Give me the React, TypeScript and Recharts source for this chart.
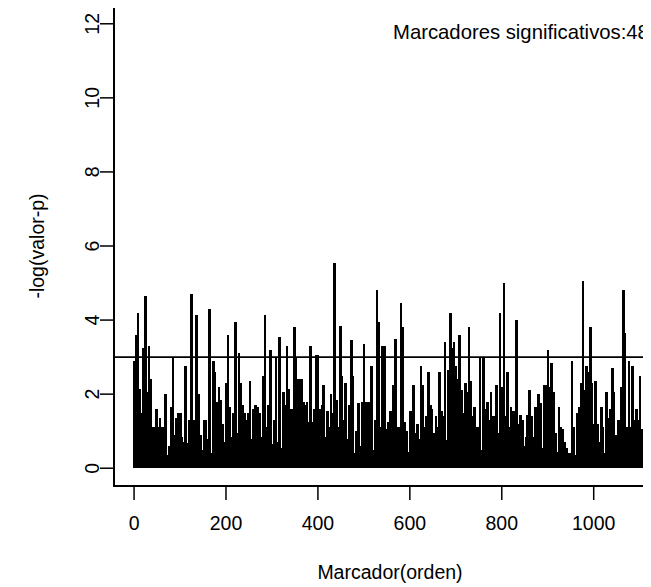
import { Bar, BarChart, ReferenceLine, XAxis, YAxis } from "recharts";

// -log(valor-p), un valor cada PASO marcadores (de izquierda a derecha)
const PASO = 4;
const tramo1 = [2.9, 3.6, 4.2, 2.15, 1.5, 3.25, 4.65, 2.05, 3.3, 2.4, 1.1, 1.1, 1.6, 1.1, 1.35, 1.1, 1.1, 2.0, 0.36, 0.6, 1.65, 3.0, 0.9, 1.35, 1.5, 1.5, 0.85, 0.7, 2.75, 0.68, 1.3, 4.7, 1.3, 1.3, 4.15, 2.0, 0.9, 0.5, 1.3, 1.3, 0.8, 4.3, 0.4, 2.9, 2.6];
const tramo2 = [1.8, 2.2, 1.85, 1.2, 0.7, 2.3, 3.6, 1.65, 0.85, 1.5, 3.95, 0.95, 3.1, 2.3, 1.7, 1.5, 1.3, 1.5, 2.35, 0.8, 1.6, 1.7, 1.65, 1.5, 0.85, 2.5, 4.15, 1.1, 1.7, 3.2, 0.65, 1.3, 3.0, 0.7, 3.55, 0.55, 2.05, 1.7, 3.3, 2.15, 1.6, 1.6, 3.8, 3.0, 2.4, 2.4];
const tramo3 = [2.4, 1.8, 1.7, 1.8, 1.25, 3.3, 1.25, 1.6, 3.05, 3.05, 1.6, 1.7, 2.25, 0.85, 1.55, 1.1, 2.0, 1.5, 5.55, 1.85, 1.1, 3.85, 2.5, 1.3, 2.3, 0.8, 1.7, 3.45, 2.5, 0.4, 1.0, 1.75, 0.6, 1.8, 3.35, 1.8, 1.8, 1.8, 2.75, 0.5, 1.3, 4.8, 3.95, 1.1, 3.3, 3.3];
const tramo4 = [1.05, 1.25, 1.55, 1.55, 2.25, 3.5, 1.1, 1.1, 4.45, 3.8, 1.25, 1.0, 0.45, 1.55, 1.55, 2.25, 0.95, 1.2, 0.8, 2.75, 2.25, 1.1, 1.4, 2.6, 1.7, 1.6, 0.95, 1.4, 1.1, 2.6, 1.55, 1.4, 3.4, 0.75, 2.65, 4.2, 3.25, 3.4, 2.75, 2.4, 3.6, 2.1, 1.5, 2.3, 2.05, 3.8];
const tramo5 = [2.35, 1.4, 1.65, 1.1, 1.1, 3.0, 0.5, 3.0, 1.6, 1.8, 1.3, 2.05, 1.4, 1.4, 2.25, 0.95, 4.2, 2.2, 5.0, 1.4, 2.6, 1.1, 1.65, 1.55, 1.55, 4.0, 1.2, 1.45, 1.3, 0.6, 0.85, 1.45, 2.1, 1.4, 0.85, 1.65, 1.65, 2.0, 1.75, 0.55, 2.25, 2.25, 3.2, 2.2, 2.85, 2.05];
const tramo6 = [0.95, 0.45, 1.65, 1.1, 1.05, 0.7, 0.55, 0.42, 0.42, 2.9, 1.1, 0.36, 1.5, 1.65, 2.3, 5.05, 2.1, 2.75, 2.6, 3.8, 2.3, 1.2, 2.35, 1.2, 0.7, 1.65, 1.1, 0.4, 2.05, 1.35, 1.6, 2.7, 2.05, 0.9, 1.3, 1.3, 2.2, 4.8, 3.65, 1.1, 2.9, 1.1, 2.75, 1.3, 1.6, 1.3, 2.5, 1.05, 1.0, 3.35, 1.1];

const xTicks = [0, 200, 400, 600, 800, 1000];
const yTicks = [0, 2, 4, 6, 8, 10, 12];
const UMBRAL = 3;
const Y_MAX = 12;
const N_SIGNIFICATIVOS = 48;

const valores = [...tramo1, ...tramo2, ...tramo3, ...tramo4, ...tramo5, ...tramo6];
const datos = valores.map((v, i) => ({ marcador: 1 + i * PASO, logp: v }));

// rangos como en R (4% extra a cada lado)
const xMin = datos[0].marcador;
const xMax = datos[datos.length - 1].marcador;
const xDom: [number, number] = [xMin - (xMax - xMin) * 0.04, xMax + (xMax - xMin) * 0.04];
const yDom: [number, number] = [-Y_MAX * 0.04, Y_MAX * 1.04];

// layout
const W = 700;
const H = 587;
const M_SUP = 6;
const M_DER = 32;
const ANCHO_EJE_Y = 114;
const ALTO_EJE_X = 101;

const FONT = "'Liberation Sans', Arial, sans-serif";
const FS = 19.5;
const ANCHO_H = 2.6; // grosor de cada línea tipo "h"
const TRAZO = 2;

function XTick({ x, y, payload }: any) {
  return (
    <text x={x} y={y + 21} textAnchor="middle" dominantBaseline="central" fontFamily={FONT} fontSize={FS} fill="#000">
      {payload.value}
    </text>
  );
}

function YTick({ x, y, payload }: any) {
  const cx = x - 6;
  return (
    <text
      x={cx}
      y={y}
      transform={`rotate(-90 ${cx} ${y})`}
      textAnchor="middle"
      dominantBaseline="central"
      fontFamily={FONT}
      fontSize={FS}
      fill="#000"
    >
      {payload.value}
    </text>
  );
}

// barra como línea vertical centrada en el marcador (plot type="h")
function LineaH({ x, y, width, height }: any) {
  if (!height) return null;
  return (
    <rect
      x={x + width / 2 - ANCHO_H / 2}
      y={y}
      width={ANCHO_H}
      height={height}
      fill="#000"
      shapeRendering="crispEdges"
    />
  );
}

export default function App() {
  return (
    <div style={{ position: "relative", width: 651, height: 587, marginLeft: -8, marginTop: -8, overflow: "hidden", background: "#fff" }}>
      <BarChart width={W} height={H} data={datos} margin={{ top: M_SUP, right: M_DER, left: 0, bottom: 0 }}>
        <XAxis
          type="number"
          dataKey="marcador"
          domain={xDom}
          allowDataOverflow
          ticks={xTicks}
          interval={0}
          tick={<XTick />}
          tickSize={14}
          tickLine={{ stroke: "#000", strokeWidth: 1.5 }}
          axisLine={{ stroke: "#000", strokeWidth: TRAZO }}
          height={ALTO_EJE_X}
        />
        <YAxis
          type="number"
          domain={yDom}
          allowDataOverflow
          ticks={yTicks}
          interval={0}
          tick={<YTick />}
          tickSize={14}
          tickLine={{ stroke: "#000", strokeWidth: 1.5 }}
          axisLine={{ stroke: "#000", strokeWidth: TRAZO }}
          width={ANCHO_EJE_Y}
        />
        <Bar dataKey="logp" fill="#000" shape={<LineaH />} isAnimationActive={false} />
        <ReferenceLine y={UMBRAL} stroke="#000" strokeWidth={1.6} />
      </BarChart>
      <svg width={651} height={587} style={{ position: "absolute", left: 0, top: 0, pointerEvents: "none", overflow: "visible" }}>
        {/* caja del gráfico (box() de R) */}
        <rect
          x={ANCHO_EJE_Y}
          y={M_SUP}
          width={W - M_DER - ANCHO_EJE_Y}
          height={H - M_SUP - ALTO_EJE_X}
          fill="none"
          stroke="#000"
          strokeWidth={TRAZO}
        />
        <text x={390} y={572} textAnchor="middle" dominantBaseline="central" fontFamily={FONT} fontSize={FS} fill="#000">
          Marcador(orden)
        </text>
        <text
          x={37}
          y={246}
          transform="rotate(-90 37 246)"
          textAnchor="middle"
          dominantBaseline="central"
          fontFamily={FONT}
          fontSize={FS}
          fill="#000"
        >
          -log(valor-p)
        </text>
        <text x={393} y={39} fontFamily={FONT} fontSize={20.3} fill="#000">
          {`Marcadores significativos:${N_SIGNIFICATIVOS}`}
        </text>
      </svg>
    </div>
  );
}
